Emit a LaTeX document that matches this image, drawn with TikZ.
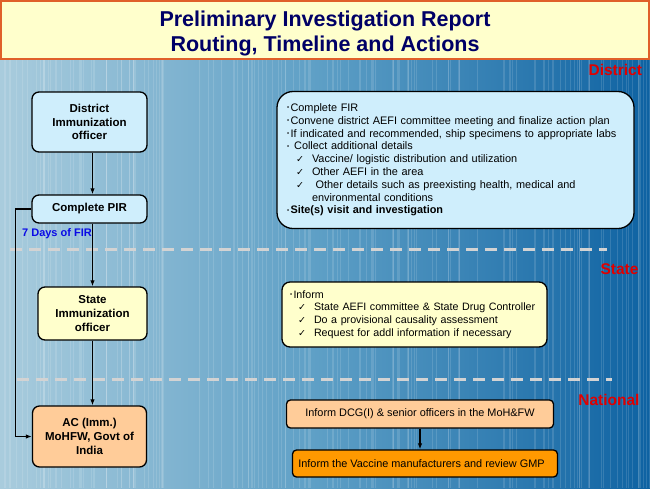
\documentclass[tikz,border=0pt]{standalone}
\usepackage{fontspec}
\setmainfont{Liberation Sans}
\newfontfamily\dejavu{DejaVu Sans}
\usetikzlibrary{arrows.meta}
\definecolor{titlebg}{HTML}{FFFFCC}
\definecolor{titleborder}{HTML}{E0602A}
\definecolor{titlefg}{HTML}{000066}
\definecolor{bgleft}{HTML}{A9CCDD}
\definecolor{bgmid}{HTML}{5C9EC5}
\definecolor{bgright}{HTML}{0E62A2}
\definecolor{boxblue}{HTML}{CFEEFC}
\definecolor{boxyellow}{HTML}{FFFFCC}
\definecolor{boxpeach}{HTML}{FFCC99}
\definecolor{boxorange}{HTML}{FF9900}
\definecolor{levelred}{HTML}{E00000}
\definecolor{daysblue}{HTML}{0A0AE6}
\definecolor{dashgray}{HTML}{D3D3D3}
\newcommand{\bul}{\makebox[3.5pt][l]{\raisebox{1.8pt}{\fontsize{6}{6}\selectfont •}}}
\newcommand{\chkA}{\hspace*{9pt}\makebox[16pt][l]{\dejavu\fontsize{9.5}{9.5}\selectfont ✓}}
\newcommand{\chkB}{\hspace*{8pt}\makebox[16pt][l]{\dejavu\fontsize{9.5}{9.5}\selectfont ✓}}
\begin{document}
\begin{tikzpicture}[x=1pt,y=-1pt,
  lbox/.style={draw=black, line width=1.3pt, rounded corners=7pt, align=center,
    font=\fontsize{11.5}{13.7}\selectfont\bfseries, inner sep=2pt},
  rbox/.style={draw=black, line width=1.3pt, align=left, inner xsep=0pt, inner ysep=2pt,
    font=\fontsize{10.9}{12.8}\selectfont},
  sbox/.style={draw=black, line width=1.3pt, rounded corners=4pt, align=center,
    font=\fontsize{10.9}{12}\selectfont, inner sep=2pt},
  arr/.style={-{Latex[length=6pt,width=4.5pt]}, line width=1.5pt, black},
  dashline/.style={dashgray, line width=3pt, dash pattern=on 12pt off 7pt},
  level/.style={levelred, font=\fontsize{15.5}{16}\selectfont\bfseries, anchor=east}]
\useasboundingbox (0,0) rectangle (650,488);
% background
\shade[left color=bgleft, right color=bgright, middle color=bgmid] (0,60) rectangle (650,488);
\pgfmathsetseed{42}
\foreach \i in {1,...,140} {
  \pgfmathsetmacro{\xx}{rnd*650}
  \pgfmathsetmacro{\ww}{0.3+rnd*1.2}
  \draw[white, opacity=0.13, line width=\ww pt] (\xx,60) -- (\xx,488);
}
% title band
\fill[titlebg] (0,0) rectangle (650,60);
\draw[titleborder, line width=2pt] (1,1) rectangle (649,59);
\node[titlefg, font=\fontsize{21.5}{25}\selectfont\bfseries, align=center] (title) at (325,33)
  {Preliminary Investigation Report\\Routing, Timeline and Actions};
% level labels
\node[level] (lvd) at (645.5,70) {District};
\node[level] (lvs) at (642,269) {State};
\node[level] (lvn) at (643,400) {National};
% dashed separators
\coordinate (d1a) at (10,249); \coordinate (d1b) at (607,249);
\coordinate (d2a) at (17,379); \coordinate (d2b) at (612,379);
\draw[dashline] (d1a) -- (d1b);
\draw[dashline] (d2a) -- (d2b);
% left column
\node[lbox, fill=boxblue, minimum width=115pt, minimum height=60pt] (dio) at (89.5,122)
  {District\\Immunization\\officer};
\node[lbox, fill=boxblue, minimum width=115pt, minimum height=28pt] (pir) at (89.5,209)
  {Complete PIR};
\node[lbox, fill=boxyellow, minimum width=109pt, minimum height=53pt] (sio) at (92.5,313.5)
  {State\\Immunization\\officer};
\node[lbox, fill=boxpeach, minimum width=114pt, minimum height=61pt] (ac) at (89.5,436.5)
  {AC (Imm.)\\MoHFW, Govt of\\India};
\node[daysblue, font=\fontsize{11}{12}\selectfont\bfseries] (days) at (57,234) {7 Days of FIR};
\draw[arr] (dio.south -| sio.north) -- (pir.north -| sio.north);
\draw[arr] (pir.south -| sio.north) -- (sio.north);
\draw[arr] (sio.south) -- (sio.south |- ac.north);
\draw[arr] (pir.west) -- ++(-16,0) |- (ac.west);
% right column
\node[rbox, fill=boxblue, rounded corners=16pt, minimum width=357pt, minimum height=137pt,
      text width=337pt] (dact) at (455.5,160)
  {\bul Complete FIR\\
   \bul Convene district AEFI committee meeting and finalize action plan\\
   \bul If indicated and recommended, ship specimens to appropriate labs\\
   \bul\ Collect additional details\\
   \chkA Vaccine/ logistic distribution and utilization\\
   \chkA Other AEFI in the area\\
   \chkA\ Other details such as preexisting health, medical and\\
   \hspace*{25pt}environmental conditions\\
   \bul\textbf{Site(s) visit and investigation}};
\node[rbox, fill=boxyellow, rounded corners=8pt, minimum width=265pt, minimum height=65pt,
      text width=249pt, font=\fontsize{10.7}{12.7}\selectfont] (sact) at (414.5,314.5)
  {\bul Inform\\
   \chkB State AEFI committee \& State Drug Controller\\
   \chkB Do a provisional causality assessment\\
   \chkB Request for addl information if necessary};
\node[sbox, fill=boxpeach, minimum width=267pt, minimum height=28pt] (dcg) at (420,414)
  {Inform DCG(I) \& senior officers in the MoH\&FW};
\node[sbox, fill=boxorange, minimum width=265pt, minimum height=27pt] (gmp) at (425,463.5)
  {\hspace*{-7pt}Inform the Vaccine manufacturers and review GMP};
\draw[arr] (dcg.south) -- (dcg.south |- gmp.north);
\end{tikzpicture}
\end{document}
